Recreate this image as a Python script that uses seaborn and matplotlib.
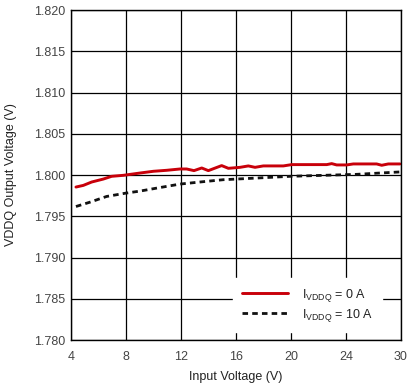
import matplotlib
matplotlib.use("Agg")
import matplotlib.pyplot as plt
import seaborn as sns
import pandas as pd
import numpy as np

# Data (x in axis units, 4..30 linear axis)
x_0a = [4.39, 4.97, 5.63, 6.55, 7.20, 8.12, 9.44, 10.49, 11.54, 12.59, 13.11, 13.69, 14.30,
        14.82, 15.87, 16.40, 17.32, 17.97, 18.50, 19.15, 20.73, 21.39, 24.15, 24.54, 24.93,
        25.72, 26.24, 28.08, 28.48, 29.0, 29.92]
v_0a = [1.79854, 1.79874, 1.79915, 1.79951, 1.79984, 1.79996, 1.80024, 1.80045, 1.80057,
        1.80073, 1.80073, 1.80053, 1.80085, 1.80053, 1.80114, 1.80081, 1.80093, 1.80110,
        1.80093, 1.80110, 1.80110, 1.80126, 1.80126, 1.80138, 1.80122, 1.80122, 1.80134,
        1.80134, 1.80118, 1.80134, 1.80134]
x_10a = [4.39, 5.50, 6.81, 8.31, 9.44, 10.75, 12.59, 14.16, 16.0, 18.63, 21.26, 23.88,
         26.51, 28.35, 29.92]
v_10a = [1.79618, 1.79671, 1.79740, 1.79780, 1.79805, 1.79841, 1.79890, 1.79915, 1.79943,
         1.79963, 1.79984, 1.79996, 1.80008, 1.80024, 1.80037]
x_tick_labels = ["4", "8", "12", "16", "20", "24", "30"]
y_ticks = [1.780, 1.785, 1.790, 1.795, 1.800, 1.805, 1.810, 1.815, 1.820]
labels = [r"I$_{\mathregular{VDDQ}}$ = 0 A", r"I$_{\mathregular{VDDQ}}$ = 10 A"]

sns.set_style("white")
plt.rcParams["font.family"] = ["Liberation Sans", "DejaVu Sans"]
plt.rcParams["mathtext.fontset"] = "custom"
plt.rcParams["mathtext.rm"] = "Liberation Sans"

fig = plt.figure(figsize=(4.10, 3.85), dpi=100)
ax = fig.add_axes([71/410, 1 - 340/385, 330/410, 330/385])

df0 = pd.DataFrame({"x": x_0a, "v": v_0a})
df1 = pd.DataFrame({"x": x_10a, "v": v_10a})
sns.lineplot(data=df0, x="x", y="v", ax=ax, color="#C8000A", linewidth=2.1, label=labels[0])
sns.lineplot(data=df1, x="x", y="v", ax=ax, color="#111111", linewidth=2.0,
             linestyle=(0, (2, 1.5)), label=labels[1])

ax.set_xlim(4, 30)
ax.set_ylim(1.780, 1.820)
ax.set_xticks(np.linspace(4, 30, len(x_tick_labels)))
ax.set_xticklabels(x_tick_labels)
ax.set_yticks(y_ticks)
ax.set_yticklabels([f"{t:.3f}" for t in y_ticks])
ax.grid(True, color="black", linewidth=0.9)
for s in ax.spines.values():
    s.set_color("black")
    s.set_linewidth(1.0)
ax.tick_params(axis="both", labelsize=9, colors="#444444", length=0)
ax.tick_params(axis="x", pad=8)
ax.tick_params(axis="y", pad=4)
ax.set_xlabel("Input Voltage (V)", fontsize=9, color="#222222", labelpad=6)
ax.set_ylabel("VDDQ Output Voltage (V)", fontsize=9, color="#222222", labelpad=12)

leg = ax.legend(loc="lower right", frameon=True, fontsize=9, handlelength=3.7,
                borderpad=0.7, labelspacing=0.25, handletextpad=1.1,
                bbox_to_anchor=(0.96, 0.004))
leg.get_frame().set_edgecolor("white")
leg.get_frame().set_facecolor("white")
leg.get_frame().set_alpha(1.0)
leg.get_frame().set_boxstyle("square", pad=0)
for t in leg.get_texts():
    t.set_color("#222222")

fig.savefig("out.png", dpi=100)
